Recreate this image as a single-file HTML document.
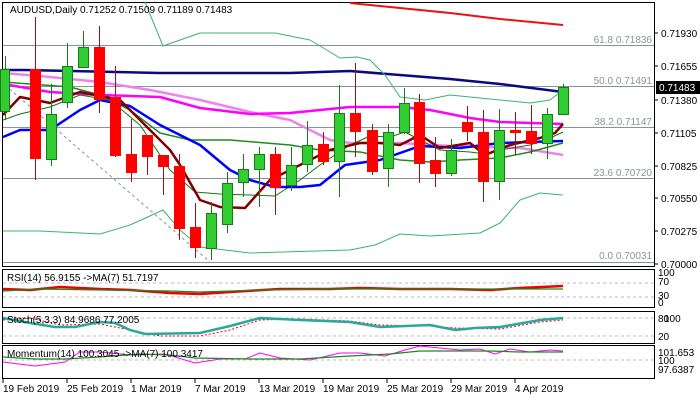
<!DOCTYPE html>
<html><head><meta charset="utf-8"><style>
body{margin:0;background:#fff}
svg{display:block;font-family:"Liberation Sans",sans-serif;font-size:10px}
</style></head><body>
<svg width="700" height="400" viewBox="0 0 700 400" xmlns="http://www.w3.org/2000/svg">
<rect width="700" height="400" fill="#fff"/>
<rect x="2.5" y="2.5" width="652" height="264" fill="none" stroke="#000"/>
<rect x="2.5" y="269.5" width="652" height="38" fill="none" stroke="#000"/>
<rect x="2.5" y="311.5" width="652" height="32" fill="none" stroke="#000"/>
<rect x="2.5" y="345.5" width="652" height="33" fill="none" stroke="#000"/>
<g stroke="#8a939c" stroke-width="1">
<line x1="3" y1="45.5" x2="654" y2="45.5"/><line x1="3" y1="86.5" x2="654" y2="86.5"/>
<line x1="3" y1="127.5" x2="654" y2="127.5"/><line x1="3" y1="178.5" x2="654" y2="178.5"/>
<line x1="3" y1="262.5" x2="654" y2="262.5"/>
</g>
<line x1="5" y1="85" x2="210" y2="262" stroke="#8a939c" stroke-dasharray="3,3"/>
<g fill="#8a939c" text-anchor="end">
<text x="652" y="43">61.8 0.71836</text><text x="652" y="84">50.0 0.71491</text>
<text x="652" y="125">38.2 0.71147</text><text x="652" y="176">23.6 0.70720</text>
<text x="652" y="259">0.0 0.70031</text>
</g>
<g fill="none" stroke-linejoin="round">
<polyline stroke="#ee1111" stroke-width="2" points="350,3 400,8 450,13 500,19 563,25"/>
<polyline stroke="#0a0a80" stroke-width="2.5" points="3,70 25,70 160,73 290,73 350,71 400,75 450,79 500,84 563,92"/>
<polyline stroke="#ee82ee" stroke-width="2.5" points="3,73 50,77 100,82 150,90 200,100 250,112 290,120 330,140 350,143 400,143 450,146 520,148 563,155"/>
<polyline stroke="#ff00ff" stroke-width="2.5" points="3,84 50,92 100,95 160,97 200,108 250,114 290,113 350,107 400,107 430,110 470,118 500,122 563,124"/>
<polyline stroke="#3cb371" stroke-width="1" points="145,2 163,46 200,33 275,33 310,40 340,58 357,57 370,60 385,75 400,97 425,100 450,95 480,98 530,103 550,100 563,90"/>
<polyline stroke="#3cb371" stroke-width="1" points="3,231 40,231 100,234 130,225 163,210 180,230 200,247 250,253 350,250 375,245 400,234 430,236 480,233 500,223 520,200 540,193 563,195"/>
<polyline stroke="#1f8a1f" stroke-width="1.5" points="3,82 30,84 70,87 100,95 130,110 160,133 190,140 230,140 290,145 320,150 360,152 400,160 430,162 460,160 500,158 530,152 563,143"/>
<polyline stroke="#0a7a0a" stroke-width="1" points="3,120 20,114 50,107 80,95 110,100 140,125 170,170 195,192 220,194 250,195 275,196 300,180 320,165 350,145 370,136 390,137 405,132 420,140 440,150 470,152 485,154 500,150 530,145 550,138 563,132"/>
<polyline stroke="#0000ff" stroke-width="2.5" points="3,137 20,130 50,130 80,110 100,100 130,106 160,125 200,145 230,170 250,180 275,187 300,187 320,185 345,165 380,160 420,146 460,148 500,143 530,142 563,141"/>
<polyline stroke="#800000" stroke-width="2.5" points="3,115 20,97 50,103 80,92 100,96 120,100 150,130 170,150 180,165 200,200 220,207 245,208 270,180 300,165 330,150 360,143 380,143 400,145 420,135 440,148 470,143 485,155 510,145 540,138 555,133 563,124"/>
</g>
<!-- wicks -->
<g stroke="#1a7a1a">
<line x1="5.5" y1="56" x2="5.5" y2="120"/>
<line x1="51.5" y1="84" x2="51.5" y2="166"/><line x1="67.5" y1="43" x2="67.5" y2="108"/><line x1="83.5" y1="31" x2="83.5" y2="68"/>
<line x1="211.5" y1="202" x2="211.5" y2="260"/><line x1="227.5" y1="172" x2="227.5" y2="233"/><line x1="243.5" y1="154" x2="243.5" y2="197"/><line x1="259.5" y1="147" x2="259.5" y2="207"/>
<line x1="291.5" y1="147" x2="291.5" y2="191"/><line x1="307.5" y1="121" x2="307.5" y2="172"/><line x1="339.5" y1="85" x2="339.5" y2="197"/>
<line x1="388.5" y1="124" x2="388.5" y2="187"/><line x1="404.5" y1="88" x2="404.5" y2="134"/><line x1="451.5" y1="139" x2="451.5" y2="176"/>
<line x1="499.5" y1="109" x2="499.5" y2="200"/><line x1="547.5" y1="108" x2="547.5" y2="159"/><line x1="563.5" y1="84" x2="563.5" y2="115"/>
</g>
<g stroke="#a01010">
<line x1="35.5" y1="17" x2="35.5" y2="180"/><line x1="99.5" y1="26" x2="99.5" y2="113"/><line x1="115.5" y1="66" x2="115.5" y2="157"/>
<line x1="131.5" y1="119" x2="131.5" y2="182"/><line x1="147.5" y1="135" x2="147.5" y2="175"/><line x1="163.5" y1="155" x2="163.5" y2="195"/>
<line x1="179.5" y1="154" x2="179.5" y2="240"/><line x1="195.5" y1="203" x2="195.5" y2="258"/><line x1="275.5" y1="147" x2="275.5" y2="215"/>
<line x1="323.5" y1="132" x2="323.5" y2="165"/><line x1="355.5" y1="63" x2="355.5" y2="157"/><line x1="372.5" y1="124" x2="372.5" y2="175"/>
<line x1="419.5" y1="94" x2="419.5" y2="183"/><line x1="435.5" y1="137" x2="435.5" y2="187"/><line x1="467.5" y1="106" x2="467.5" y2="141"/>
<line x1="483.5" y1="110" x2="483.5" y2="202"/><line x1="515.5" y1="112" x2="515.5" y2="155"/><line x1="531.5" y1="105" x2="531.5" y2="154"/>
</g>
<!-- green bodies -->
<g fill="#32cd32" stroke="#1a7a1a">
<rect x="0.5" y="69.5" width="9" height="42"/>
<rect x="46.5" y="114.5" width="10" height="45"/><rect x="62.5" y="66.5" width="10" height="36"/><rect x="78.5" y="47.5" width="10" height="20"/>
<rect x="206.5" y="213.5" width="10" height="35"/><rect x="222.5" y="183.5" width="10" height="41"/><rect x="238.5" y="169.5" width="10" height="13"/><rect x="254.5" y="154.5" width="10" height="15"/>
<rect x="286.5" y="165.5" width="10" height="20"/><rect x="302.5" y="145.5" width="10" height="19"/><rect x="334.5" y="113.5" width="10" height="48"/>
<rect x="383.5" y="132.5" width="10" height="36"/><rect x="399.5" y="103.5" width="10" height="29"/><rect x="446.5" y="150.5" width="10" height="23"/>
<rect x="494.5" y="130.5" width="10" height="51"/><rect x="542.5" y="114.5" width="10" height="29"/><rect x="558.5" y="87.5" width="10" height="27"/>
</g>
<!-- red bodies -->
<g fill="#ff0000" stroke="#ff0000">
<rect x="30.5" y="69.5" width="10" height="89"/><rect x="94.5" y="47.5" width="10" height="52"/><rect x="110.5" y="97.5" width="10" height="58"/>
<rect x="126.5" y="154.5" width="10" height="18"/><rect x="142.5" y="135.5" width="10" height="21"/><rect x="158.5" y="155.5" width="10" height="11"/>
<rect x="174.5" y="166.5" width="10" height="62"/><rect x="190.5" y="227.5" width="10" height="20"/><rect x="270.5" y="154.5" width="10" height="33"/>
<rect x="318.5" y="144.5" width="10" height="17"/><rect x="350.5" y="113.5" width="10" height="18"/><rect x="367.5" y="130.5" width="10" height="41"/>
<rect x="414.5" y="102.5" width="10" height="61"/><rect x="430.5" y="160.5" width="10" height="13"/><rect x="462.5" y="122.5" width="10" height="9"/>
<rect x="478.5" y="132.5" width="10" height="49"/><rect x="510.5" y="130.5" width="10" height="2"/><rect x="526.5" y="131.5" width="10" height="12"/>
</g>
<text x="10" y="13" fill="#000">AUDUSD,Daily  0.71252 0.71509 0.71189 0.71483</text>
<g fill="#000">
<g stroke="#000"><line x1="654" y1="33" x2="658" y2="33"/><line x1="654" y1="66" x2="658" y2="66"/><line x1="654" y1="100" x2="658" y2="100"/><line x1="654" y1="133" x2="658" y2="133"/><line x1="654" y1="166" x2="658" y2="166"/><line x1="654" y1="198" x2="658" y2="198"/><line x1="654" y1="231" x2="658" y2="231"/><line x1="654" y1="264" x2="658" y2="264"/></g>
<text x="661" y="37">0.71930</text><text x="661" y="70">0.71655</text><text x="661" y="104">0.71380</text>
<text x="661" y="137">0.71105</text><text x="661" y="170">0.70825</text><text x="661" y="202">0.70550</text>
<text x="661" y="235">0.70275</text><text x="661" y="268">0.70000</text>
</g>
<rect x="656" y="81" width="44" height="13" fill="#000"/>
<text x="659" y="91" fill="#fff">0.71483</text>
<g stroke="#bbb" stroke-dasharray="3,3"><line x1="3" y1="283" x2="654" y2="283"/><line x1="3" y1="297" x2="654" y2="297"/>
<line x1="3" y1="318" x2="654" y2="318"/><line x1="3" y1="336" x2="654" y2="336"/><line x1="3" y1="360" x2="654" y2="360"/></g>
<polyline fill="none" stroke="#ee0000" stroke-width="2.5" points="3,289 30,290 60,287 100,289 130,290 170,293 200,294 230,292 280,289 330,289 360,288 400,289 450,289 490,290 520,288 563,286"/>
<polyline fill="none" stroke="#1a8a1a" stroke-width="1.2" points="3,291 40,289 100,290 170,291 200,292 260,290 330,289 400,289 460,289 500,289 563,289"/>
<text x="7" y="281">RSI(14) 56.9155  -&gt;MA(7) 51.7197</text>
<g fill="#000"><text x="658" y="276">100</text><text x="658" y="285">70</text><text x="658" y="299">30</text><text x="658" y="306">0</text></g>
<polyline fill="none" stroke="#e00" stroke-width="1" stroke-dasharray="2,2" points="3,320 30,318 60,325 100,324 130,330 160,336 200,336 230,330 260,320 300,319 350,321 380,325 430,326 455,328 500,329 540,322 563,320"/>
<polyline fill="none" stroke="#2aa8a0" stroke-width="2.5" points="3,318 30,323 55,327 75,327 100,322 115,323 130,330 145,334 200,333 230,326 260,318 300,320 350,322 380,327 430,325 455,330 475,328 500,327 540,320 563,318"/>
<text x="7" y="323">Stoch(5,3,3) 84.9686 77.2005</text>
<g fill="#000"><text x="658" y="322">80</text><text x="664" y="322">100</text><text x="658" y="340">20</text></g>
<polyline fill="none" stroke="#ff00ff" stroke-width="1" points="3,362 35,366 65,362 80,352 100,352 130,355 165,354 195,363 220,359 245,359 260,353 280,358 310,360 340,353 360,353 385,356 405,350 420,346 440,348 460,350 480,349 495,354 510,349 530,352 550,350 563,351"/>
<polyline fill="none" stroke="#1a8a1a" stroke-width="1.2" points="3,357 35,359 65,359 100,357 140,354 170,355 195,358 250,359 300,359 350,356 390,354 420,351 460,351 490,351 520,352 563,352"/>
<text x="7" y="357">Momentum(14) 100.3045  -&gt;MA(7) 100.3417</text>
<g fill="#000"><text x="658" y="356">101.653</text><text x="658" y="364">100</text><text x="658" y="373">97.6387</text></g>
<g stroke="#000"><line x1="3" y1="379" x2="3" y2="383"/><line x1="67" y1="379" x2="67" y2="383"/><line x1="131" y1="379" x2="131" y2="383"/><line x1="195" y1="379" x2="195" y2="383"/><line x1="259" y1="379" x2="259" y2="383"/><line x1="323" y1="379" x2="323" y2="383"/><line x1="387" y1="379" x2="387" y2="383"/><line x1="451" y1="379" x2="451" y2="383"/><line x1="515" y1="379" x2="515" y2="383"/></g>
<g fill="#000"><text x="3" y="392">19 Feb 2019</text><text x="67" y="392">25 Feb 2019</text><text x="131" y="392">1 Mar 2019</text><text x="195" y="392">7 Mar 2019</text><text x="259" y="392">13 Mar 2019</text><text x="323" y="392">19 Mar 2019</text><text x="387" y="392">25 Mar 2019</text><text x="451" y="392">29 Mar 2019</text><text x="515" y="392">4 Apr 2019</text></g>
</svg>
</body></html>
